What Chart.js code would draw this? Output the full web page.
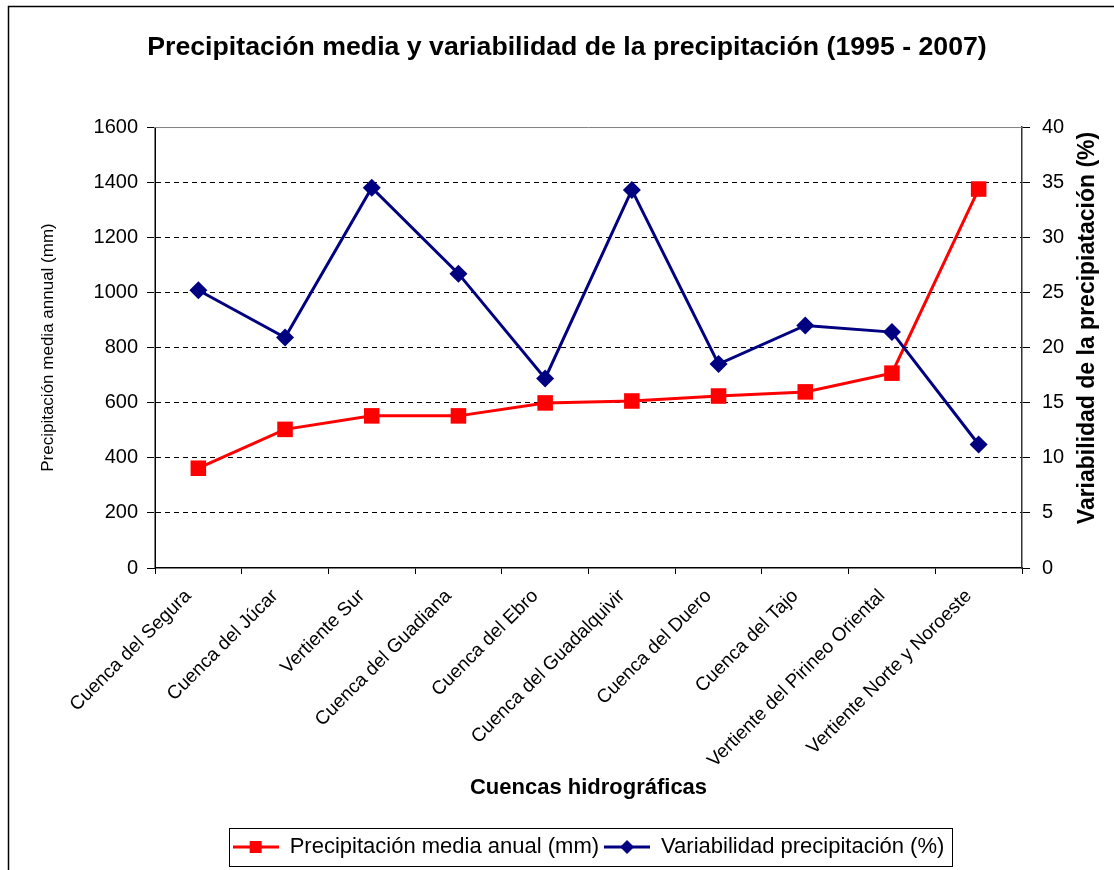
<!DOCTYPE html>
<html>
<head>
<meta charset="utf-8">
<title>Precipitación media y variabilidad de la precipitación (1995 - 2007)</title>
<script src="https://cdn.jsdelivr.net/npm/chart.js@4.4.1/dist/chart.umd.min.js"></script>
<style>
  html, body { margin: 0; padding: 0; background: #fff; }
  canvas { display: block; }
</style>
</head>
<body>
<canvas id="chart" width="1114" height="870"></canvas>
<script>
const cuencas = [
  "Cuenca del Segura",
  "Cuenca del Júcar",
  "Vertiente Sur",
  "Cuenca del Guadiana",
  "Cuenca del Ebro",
  "Cuenca del Guadalquivir",
  "Cuenca del Duero",
  "Cuenca del Tajo",
  "Vertiente del Pirineo Oriental",
  "Vertiente Norte y Noroeste",
];
const precipitacion = [362, 503, 552, 552, 599, 606, 624, 639, 707, 1375];
const variabilidad = [25.2, 20.9, 34.5, 26.7, 17.2, 34.3, 18.5, 22.0, 21.4, 11.2];
const precipAxis = [0, 1600, 200]; // min, max, step
const variabAxis = [0, 40, 5];

const title = "Precipitación media y variabilidad de la precipitación (1995 - 2007)";
const xTitle = "Cuencas hidrográficas";
const leftTitle = "Precipitación media annual (mm)";
const rightTitle = "Variabilidad de la precipiatación (%)";
const seriesNames = ["Precipitación media anual (mm)", "Variabilidad precipitación (%)"];

const RED = "#ff0000";
const NAVY = "#000080";
const FONT = "'Liberation Sans', Arial, sans-serif";

Chart.defaults.font.family = FONT;
Chart.defaults.color = "#000";

// small picture of line + marker for the legend
function legendMarker(color, shape) {
  const c = document.createElement("canvas");
  c.width = 46;
  c.height = 22;
  const g = c.getContext("2d");
  g.strokeStyle = color;
  g.fillStyle = color;
  g.lineWidth = 3;
  g.beginPath();
  g.moveTo(0, 11);
  g.lineTo(46, 11);
  g.stroke();
  g.beginPath();
  if (shape === "rect") {
    g.rect(17, 5, 12, 12);
  } else {
    g.moveTo(23, 4);
    g.lineTo(30, 11);
    g.lineTo(23, 18);
    g.lineTo(16, 11);
    g.closePath();
  }
  g.fill();
  return c;
}

const framePlugin = {
  id: "frame",
  beforeDatasetsDraw(chart) {
    const { ctx, chartArea } = chart;
    ctx.save();
    ctx.strokeStyle = "#808080";
    ctx.lineWidth = 1;
    ctx.beginPath();
    ctx.moveTo(chartArea.left, chartArea.top + 0.5);
    ctx.lineTo(chartArea.right, chartArea.top + 0.5);
    ctx.moveTo(chartArea.left - 0.5, chartArea.top);
    ctx.lineTo(chartArea.left - 0.5, chartArea.bottom);
    ctx.stroke();
    ctx.restore();
  },
  afterDraw(chart) {
    const { ctx } = chart;
    ctx.save();
    // outer border of the picture
    ctx.strokeStyle = "#000";
    ctx.lineWidth = 1.5;
    ctx.strokeRect(8.5, 6.5, 2000, 2000);

    // right axis title, reading bottom to top
    ctx.translate(1088, 328);
    ctx.rotate(-Math.PI / 2);
    ctx.font = "bold 23px " + FONT;
    ctx.textAlign = "center";
    ctx.textBaseline = "middle";
    ctx.fillStyle = "#000";
    ctx.fillText(rightTitle, 0, 0);
    ctx.restore();

    // legend box
    const boxes = chart.legend.legendHitBoxes;
    if (boxes && boxes.length) {
      const first = boxes[0];
      const last = boxes[boxes.length - 1];
      const left = first.left - 4;
      const right = last.left + last.width + 7;
      const top = first.top - 8;
      ctx.save();
      ctx.strokeStyle = "#000";
      ctx.lineWidth = 1;
      ctx.strokeRect(Math.round(left) + 0.5, Math.round(top) + 0.5, Math.round(right - left), 38);
      ctx.restore();
    }
  },
};

const ctx = document.getElementById("chart").getContext("2d");
const chart = new Chart(ctx, {
  type: "line",
  data: {
    labels: cuencas,
    datasets: [
      {
        label: seriesNames[0],
        data: precipitacion,
        yAxisID: "y",
        borderColor: RED,
        backgroundColor: RED,
        borderWidth: 3,
        pointStyle: "rect",
        pointRadius: 11,
        pointBorderWidth: 0,
        tension: 0,
        order: 2,
      },
      {
        label: seriesNames[1],
        data: variabilidad,
        yAxisID: "y1",
        borderColor: NAVY,
        backgroundColor: NAVY,
        borderWidth: 3,
        pointStyle: "rectRot",
        pointRadius: 9,
        pointBorderWidth: 0,
        tension: 0,
        order: 1,
      },
    ],
  },
  options: {
    responsive: false,
    animation: false,
    layout: { padding: { left: 20, right: 0, top: 0, bottom: 2 } },
    plugins: {
      tooltip: { enabled: false },
      title: {
        display: true,
        text: title,
        color: "#000",
        font: { size: 26.7, weight: "bold" },
        padding: { top: 32, bottom: 63 },
      },
      legend: {
        position: "bottom",
        fullSize: false,
        labels: {
          font: { size: 22 },
          color: "#000",
          padding: 5,
          usePointStyle: true,
          pointStyleWidth: 46,
          generateLabels() {
            return [
              { text: seriesNames[0], pointStyle: legendMarker(RED, "rect"), fillStyle: RED, strokeStyle: RED, lineWidth: 0, datasetIndex: 0 },
              { text: seriesNames[1], pointStyle: legendMarker(NAVY, "diamond"), fillStyle: NAVY, strokeStyle: NAVY, lineWidth: 0, datasetIndex: 1 },
            ];
          },
        },
      },
    },
    scales: {
      x: {
        offset: true,
        afterFit(scale) { scale.height = 263; },
        grid: { offset: true, drawOnChartArea: false, drawTicks: true, tickLength: 6, color: "#000", tickColor: "#000" },
        border: { color: "#000", width: 1.5 },
        ticks: { minRotation: 45, maxRotation: 45, autoSkip: false, padding: 11, labelOffset: -10, font: { size: 19 } },
        title: { display: true, text: xTitle, font: { size: 22, weight: "bold" }, padding: { top: 0, bottom: 30 } },
      },
      y: {
        position: "left",
        min: precipAxis[0],
        max: precipAxis[1],
        afterFit(scale) { scale.width = 135; },
        ticks: { stepSize: precipAxis[2], padding: 9, font: { size: 20 }, callback: (v) => String(v) },
        grid: {
          color(c) { return c.tick.value === precipAxis[0] || c.tick.value === precipAxis[1] ? "rgba(0,0,0,0)" : "#000"; },
          tickColor: "#000",
          borderDash: [8, 6],
          tickBorderDash: [],
          tickLength: 8,
          lineWidth: 1,
        },
        border: { color: "#000", dash: [5, 4], width: 1 },
        title: { display: true, text: leftTitle, font: { size: 17 }, padding: { top: 18, bottom: 0 } },
      },
      y1: {
        position: "right",
        min: variabAxis[0],
        max: variabAxis[1],
        afterFit(scale) { scale.width = 92; },
        ticks: { stepSize: variabAxis[2], padding: 12, font: { size: 20 }, callback: (v) => String(v) },
        grid: { drawOnChartArea: false, tickLength: 8, color: "#000", tickColor: "#000" },
        border: { color: "#333", width: 1.5 },
      },
    },
  },
  plugins: [framePlugin],
});
</script>
</body>
</html>
